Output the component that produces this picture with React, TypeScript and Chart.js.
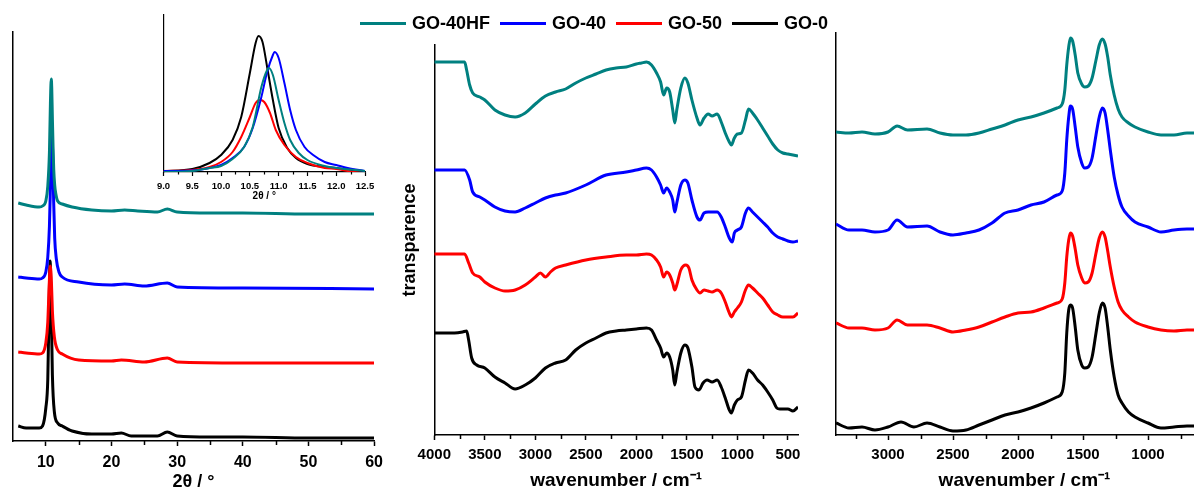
import React, { useEffect, useRef } from 'react';
import { Chart, registerables } from 'chart.js';

Chart.register(...registerables);

const FONT = "Arial, 'Liberation Sans', Helvetica, sans-serif";

const SERIES_NAMES = ['GO-40HF', 'GO-40', 'GO-50', 'GO-0'];
const SERIES_COLORS = ['#008080', '#0000ff', '#ff0000', '#000000'];

// ---------- XRD (2θ, intensity a.u.) ----------
const XRD_TICKS = [10, 20, 30, 40, 50, 60];
const XRD_MINOR = [15, 25, 35, 45, 55];
const XRD_GO40HF: [number, number][] = [[5.8,238],[7,236],[9,234],[9.5,235],[10,240],[10.3,255],[10.55,289],[10.7,338],[10.83,362],[10.9,353],[11,322],[11.1,294],[11.2,272],[11.35,256],[11.5,248],[11.8,240],[12.5,237],[14,234],[17,231],[20,230],[22,231],[24,230],[27,229],[28.5,232],[30,229],[35,228],[40,228],[50,227],[60,227]];
const XRD_GO40: [number, number][] = [[5.8,164],[7,163],[9,162],[9.5,163],[10,169],[10.3,184],[10.55,215],[10.7,254],[10.8,285],[10.93,310],[11.05,286],[11.2,238],[11.35,203],[11.6,182],[12,169],[12.5,164],[15,159],[20,156],[22,157],[25,155],[28.5,158],[30,154],[40,153],[60,152]];
const XRD_GO50: [number, number][] = [[5.8,89],[7,88],[9,87],[9.5,88],[10,98],[10.3,119],[10.5,154],[10.68,175],[10.85,159],[11,130],[11.3,104],[11.8,91],[12.5,87],[15,81],[20,80],[21.5,81],[25,79],[28.5,83],[30,79],[40,78],[60,78]];
const XRD_GO0: [number, number][] = [[5.8,15],[7,13],[9,13],[9.5,15],[10,33],[10.3,62],[10.5,135],[10.65,180],[10.8,142],[11,66],[11.3,29],[11.8,18],[12.5,15],[14,10],[17,7],[20,7],[21.5,8],[23,5],[27,5],[28.5,9],[30,5],[35,4],[40,4],[50,3],[60,3]];

// ---------- XRD inset ----------
const INSET_TICKS = [9.0, 9.5, 10.0, 10.5, 11.0, 11.5, 12.0, 12.5];
const INSET_MINOR = [9.25, 9.75, 10.25, 10.75, 11.25, 11.75, 12.25];
const INSET_GO40HF: [number, number][] = [[9,-1],[9.5,0],[9.8,3],[10,5],[10.2,12],[10.4,24],[10.55,44],[10.7,84],[10.8,101],[10.83,103],[10.9,96],[11,71],[11.1,48],[11.2,31],[11.35,18],[11.5,11],[11.8,5],[12,3],[12.5,0]];
const INSET_GO40: [number, number][] = [[9,0],[9.5,0.5],[9.8,3],[10,6],[10.2,13],[10.4,24],[10.55,43],[10.7,74],[10.8,99],[10.9,116],[10.93,119],[11,113],[11.1,88],[11.2,61],[11.3,41],[11.45,24],[11.6,16],[11.8,9],[12,6],[12.2,3],[12.5,0]];
const INSET_GO50: [number, number][] = [[9,0],[9.5,1],[9.8,4],[10,9],[10.2,19],[10.35,34],[10.5,54],[10.6,68],[10.68,71],[10.75,69],[10.85,58],[10.95,41],[11.1,26],[11.3,14],[11.5,8],[11.8,3],[12,2],[12.3,-1],[12.5,-2]];
const INSET_GO0: [number, number][] = [[9,0],[9.5,2],[9.8,8],[10,16],[10.2,31],[10.35,54],[10.5,98],[10.6,128],[10.65,135],[10.72,129],[10.8,104],[10.9,71],[11,43],[11.15,23],[11.3,13],[11.5,7],[11.8,4],[12,3],[12.5,-1]];

// ---------- FTIR (wavenumber, transmittance a.u.) ----------
const FTIR_TICKS = [4000, 3500, 3000, 2500, 2000, 1500, 1000, 500];
const FTIR_MINOR = [3750, 3250, 2750, 2250, 1750, 1250, 750];
const FTIR_GO40HF: [number, number][] = [[4000,371],[3850,371],[3700,371],[3680,363],[3650,348],[3620,340],[3550,336],[3500,333],[3400,323],[3300,318],[3200,316],[3100,320],[3000,329],[2900,337],[2800,341],[2700,344],[2600,350],[2500,355],[2400,359],[2300,363],[2200,365],[2100,366],[2000,369],[1950,370],[1900,371],[1850,368],[1800,360],[1760,351],[1730,338],[1700,345],[1670,341],[1640,323],[1620,310],[1600,323],[1560,345],[1520,355],[1490,350],[1450,333],[1400,315],[1370,308],[1330,315],[1290,319],[1250,317],[1200,319],[1160,311],[1120,300],[1080,291],[1060,288],[1030,295],[1000,299],[960,300],[920,313],[890,324],[850,320],[800,313],[750,305],[700,297],[650,289],[600,283],[550,280],[500,279],[450,278],[400,277]];
const FTIR_GO40: [number, number][] = [[4000,263],[3850,263],[3700,263],[3650,253],[3620,241],[3550,236],[3500,233],[3400,226],[3300,222],[3200,221],[3100,225],[3000,230],[2900,235],[2800,238],[2700,240],[2500,248],[2300,258],[2100,261],[2000,263],[1900,265],[1850,263],[1800,256],[1760,248],[1730,240],[1700,245],[1670,241],[1640,233],[1620,221],[1600,230],[1560,248],[1520,253],[1490,250],[1450,233],[1400,216],[1370,213],[1330,220],[1290,221],[1250,221],[1200,221],[1160,216],[1120,206],[1080,195],[1050,191],[1030,200],[1000,203],[960,206],[920,220],[890,225],[850,221],[800,216],[750,211],[700,206],[650,200],[600,196],[550,194],[500,192],[450,191],[400,192]];
const FTIR_GO50: [number, number][] = [[4000,179],[3850,179],[3700,179],[3660,170],[3620,160],[3550,156],[3500,151],[3400,145],[3300,142],[3200,143],[3100,148],[3000,156],[2950,160],[2900,156],[2850,161],[2800,165],[2700,168],[2500,173],[2300,176],[2100,178],[2000,178],[1900,179],[1850,178],[1800,173],[1760,166],[1730,156],[1700,161],[1670,158],[1640,150],[1620,143],[1600,148],[1560,163],[1510,168],[1480,165],[1450,153],[1400,143],[1370,140],[1330,143],[1290,142],[1250,141],[1200,143],[1160,140],[1120,131],[1080,120],[1060,116],[1030,121],[1000,125],[960,131],[920,143],[890,148],[850,145],[800,140],[750,135],[700,128],[650,121],[600,118],[550,116],[500,116],[450,116],[400,120]];
const FTIR_GO0: [number, number][] = [[4000,100],[3800,100],[3720,101],[3680,102],[3660,93],[3630,75],[3580,68],[3500,65],[3400,56],[3300,50],[3200,44],[3100,48],[3000,55],[2900,65],[2800,70],[2700,73],[2600,83],[2500,90],[2400,95],[2300,100],[2200,102],[2100,103],[2000,104],[1900,105],[1850,103],[1800,93],[1760,85],[1730,76],[1700,80],[1670,76],[1640,63],[1620,48],[1600,60],[1560,80],[1520,88],[1490,85],[1450,66],[1420,46],[1380,43],[1340,50],[1300,53],[1250,51],[1200,53],[1160,46],[1120,35],[1080,23],[1060,20],[1030,28],[1000,33],[960,36],[920,53],[890,63],[850,60],[800,53],[750,48],[700,41],[650,33],[610,25],[580,24],[500,24],[450,22],[400,26]];

// ---------- Raman (wavenumber, intensity a.u.) ----------
const RAMAN_TICKS = [3000, 2500, 2000, 1500, 1000];
const RAMAN_MINOR = [3250, 2750, 2250, 1750, 1250, 750];
const RAMAN_GO40HF: [number, number][] = [[3400,303],[3300,302],[3200,303],[3100,301],[3000,303],[2930,309],[2850,305],[2700,306],[2600,302],[2500,300],[2400,300],[2300,302],[2200,306],[2100,310],[2000,315],[1900,318],[1800,322],[1700,327],[1660,331],[1640,345],[1625,370],[1610,388],[1597,397],[1580,394],[1560,380],[1540,362],[1510,351],[1487,348],[1460,349],[1430,357],[1400,375],[1375,390],[1351,396],[1330,391],[1310,378],[1290,360],[1260,340],[1230,326],[1200,318],[1150,312],[1100,308],[1000,303],[900,300],[800,300],[700,302],[500,302]];
const RAMAN_GO40: [number, number][] = [[3400,211],[3300,205],[3200,205],[3100,203],[3000,205],[2930,215],[2850,208],[2700,209],[2600,203],[2500,200],[2400,202],[2300,205],[2200,212],[2100,222],[2000,225],[1900,230],[1800,233],[1700,240],[1660,244],[1640,262],[1625,295],[1610,318],[1597,329],[1580,326],[1560,308],[1540,288],[1510,272],[1487,267],[1460,268],[1430,277],[1400,300],[1375,318],[1351,327],[1330,322],[1310,305],[1290,285],[1260,258],[1230,240],[1200,228],[1150,219],[1100,213],[1000,208],[900,203],[800,205],[700,206],[500,206]];
const RAMAN_GO50: [number, number][] = [[3400,112],[3300,107],[3200,107],[3100,105],[3000,107],[2930,115],[2850,110],[2700,110],[2600,107],[2500,103],[2400,105],[2300,108],[2200,113],[2100,118],[2000,122],[1900,123],[1800,127],[1700,132],[1660,136],[1640,152],[1625,178],[1610,195],[1597,202],[1580,199],[1560,186],[1540,170],[1510,157],[1487,152],[1460,153],[1430,162],[1400,182],[1375,197],[1351,203],[1330,198],[1310,184],[1290,168],[1260,148],[1230,133],[1200,125],[1150,118],[1100,113],[1000,108],[900,105],[800,104],[700,105],[500,105]];
const RAMAN_GO0: [number, number][] = [[3400,12],[3300,7],[3200,8],[3100,5],[3000,8],[2900,13],[2800,8],[2700,12],[2600,8],[2500,4],[2400,5],[2300,10],[2200,15],[2100,20],[2000,23],[1900,27],[1800,32],[1700,38],[1660,43],[1640,62],[1625,102],[1610,125],[1597,130],[1580,127],[1560,108],[1540,85],[1510,70],[1487,67],[1460,68],[1430,78],[1400,102],[1375,122],[1351,132],[1330,127],[1310,108],[1290,85],[1260,58],[1230,40],[1200,32],[1150,23],[1100,18],[1000,12],[900,7],[800,8],[700,9],[500,9]];

const minorTicksPlugin = {
  id: 'minorTicks',
  afterDraw(chart: any, _args: any, opts: any) {
    const vals: number[] = opts && opts.values;
    if (!vals) return;
    const sc = chart.scales.x;
    const ctx = chart.ctx;
    ctx.save();
    ctx.strokeStyle = '#000';
    ctx.lineWidth = opts.width || 1.5;
    ctx.beginPath();
    for (const v of vals) {
      const px = Math.round(sc.getPixelForValue(v)) + 0.5;
      ctx.moveTo(px, sc.top);
      ctx.lineTo(px, sc.top + (opts.length || 3));
    }
    ctx.stroke();
    ctx.restore();
  },
};

type Panel = {
  series: [number, number][][];
  lineWidth: number;
  xMin: number; xMax: number; reverse: boolean;
  yMin: number; yMax: number;
  ticks: number[]; minor: number[];
  tickFont: number; tickLen: number; tickPad: number; decimals: number;
  xTitle: string; xTitleFont: number; xTitlePad: number;
  yTitle?: string; yTitleFont?: number; yTitlePad?: number;
  padTop: number; padRight: number; yWidth: number; xHeight: number;
  minorLen: number; axisWidth: number;
};

function buildConfig(p: Panel): any {
  return {
    type: 'line',
    data: {
      datasets: p.series.map((pts, i) => ({
        label: SERIES_NAMES[i],
        data: pts.map(([x, y]) => ({ x, y })),
        borderColor: SERIES_COLORS[i],
        backgroundColor: SERIES_COLORS[i],
        borderWidth: p.lineWidth,
        pointRadius: 0,
        cubicInterpolationMode: 'monotone',
        fill: false,
      })),
    },
    options: {
      responsive: false,
      animation: false,
      events: [],
      layout: { padding: { top: p.padTop, right: p.padRight, left: 0, bottom: 0 } },
      plugins: {
        legend: { display: false },
        tooltip: { enabled: false },
        minorTicks: { values: p.minor, length: p.minorLen, width: p.axisWidth },
      },
      scales: {
        x: {
          type: 'linear',
          min: p.xMin,
          max: p.xMax,
          reverse: p.reverse,
          afterBuildTicks: (s: any) => { s.ticks = p.ticks.map((v) => ({ value: v })); },
          afterFit: (s: any) => { s.height = p.xHeight; },
          ticks: {
            autoSkip: false,
            maxRotation: 0,
            padding: p.tickPad,
            color: '#000',
            font: { family: FONT, size: p.tickFont, weight: 'bold' },
            callback: (v: any) => Number(v).toFixed(p.decimals),
          },
          grid: {
            display: true,
            drawOnChartArea: false,
            drawTicks: true,
            tickLength: p.tickLen,
            tickWidth: p.axisWidth,
            tickColor: '#000',
            color: '#000',
          },
          border: { display: true, color: '#000', width: p.axisWidth },
          title: {
            display: true,
            text: p.xTitle,
            color: '#000',
            font: { family: FONT, size: p.xTitleFont, weight: 'bold', lineHeight: 1.2 },
            padding: { top: 0, bottom: p.xTitlePad },
          },
        },
        y: {
          type: 'linear',
          min: p.yMin,
          max: p.yMax,
          afterFit: (s: any) => { s.width = p.yWidth; },
          ticks: { display: false },
          grid: { display: false },
          border: { display: true, color: '#000', width: p.axisWidth },
          title: {
            display: !!p.yTitle,
            text: p.yTitle || '',
            color: '#000',
            font: { family: FONT, size: p.yTitleFont || 12, weight: 'bold', lineHeight: 1.2 },
            padding: { top: p.yTitlePad || 0, bottom: 0 },
          },
        },
      },
    },
    plugins: [minorTicksPlugin],
  };
}

const XRD_PANEL: Panel = {
  series: [XRD_GO40HF, XRD_GO40, XRD_GO50, XRD_GO0],
  lineWidth: 3, xMin: 5, xMax: 60, reverse: false, yMin: 0, yMax: 409,
  ticks: XRD_TICKS, minor: XRD_MINOR, tickFont: 16, tickLen: 5, tickPad: 7, decimals: 0,
  xTitle: '2θ / °', xTitleFont: 18, xTitlePad: 6.8,
  padTop: 32, padRight: 14, yWidth: 13, xHeight: 59, minorLen: 4, axisWidth: 1.5,
};

const INSET_PANEL: Panel = {
  series: [INSET_GO40HF, INSET_GO40, INSET_GO50, INSET_GO0],
  lineWidth: 2, xMin: 9, xMax: 12.5, reverse: false, yMin: -1, yMax: 156,
  ticks: INSET_TICKS, minor: INSET_MINOR, tickFont: 9.5, tickLen: 4, tickPad: 5, decimals: 1,
  xTitle: '2θ / °', xTitleFont: 10, xTitlePad: 8,
  padTop: 15, padRight: 15, yWidth: 13.5, xHeight: 38, minorLen: 2.5, axisWidth: 1.2,
};

const FTIR_PANEL: Panel = {
  series: [FTIR_GO40HF, FTIR_GO40, FTIR_GO50, FTIR_GO0],
  lineWidth: 3, xMin: 400, xMax: 4000, reverse: true, yMin: -2, yMax: 388,
  ticks: FTIR_TICKS, minor: FTIR_MINOR, tickFont: 15, tickLen: 5, tickPad: 6, decimals: 0,
  xTitle: 'wavenumber / cm⁻¹', xTitleFont: 19, xTitlePad: 7.6,
  yTitle: 'transparence', yTitleFont: 18, yTitlePad: 9.2,
  padTop: 45, padRight: 17, yWidth: 44.3, xHeight: 65, minorLen: 4, axisWidth: 1.5,
};

const RAMAN_PANEL: Panel = {
  series: [RAMAN_GO40HF, RAMAN_GO40, RAMAN_GO50, RAMAN_GO0],
  lineWidth: 3, xMin: 500, xMax: 3400, reverse: true, yMin: 0, yMax: 402,
  ticks: RAMAN_TICKS, minor: RAMAN_MINOR, tickFont: 15, tickLen: 5, tickPad: 6, decimals: 0,
  xTitle: 'wavenumber / cm⁻¹', xTitleFont: 19, xTitlePad: 7.6,
  padTop: 33, padRight: 17, yWidth: 21, xHeight: 65, minorLen: 4, axisWidth: 1.5,
};

function ChartCanvas({ panel, left, top, width, height }: { panel: Panel; left: number; top: number; width: number; height: number }) {
  const ref = useRef<HTMLCanvasElement>(null);
  useEffect(() => {
    const chart = new Chart(ref.current as HTMLCanvasElement, buildConfig(panel));
    return () => chart.destroy();
  }, [panel]);
  return (
    <canvas
      ref={ref}
      width={width}
      height={height}
      style={{ position: 'absolute', left, top, width, height }}
    />
  );
}

function Legend() {
  return (
    <div
      style={{
        position: 'absolute',
        left: 360,
        top: 12,
        height: 22,
        display: 'flex',
        alignItems: 'center',
        whiteSpace: 'nowrap',
        font: `bold 18px ${FONT}`,
        color: '#000',
      }}
    >
      {SERIES_NAMES.map((name, i) => (
        <React.Fragment key={name}>
          <span style={{ display: 'inline-block', width: 46, height: 3, background: SERIES_COLORS[i], marginRight: 6 }} />
          <span style={{ marginRight: 10, lineHeight: '22px' }}>{name}</span>
        </React.Fragment>
      ))}
    </div>
  );
}

export default function App() {
  return (
    <div
      style={{
        position: 'absolute',
        left: 0,
        top: 0,
        width: 1194,
        height: 488,
        overflow: 'hidden',
        background: '#fff',
      }}
    >
      <ChartCanvas panel={XRD_PANEL} left={0} top={0} width={390} height={500} />
      <ChartCanvas panel={INSET_PANEL} left={150} top={0} width={230} height={210} />
      <ChartCanvas panel={FTIR_PANEL} left={390} top={0} width={425} height={500} />
      <ChartCanvas panel={RAMAN_PANEL} left={815} top={0} width={415} height={500} />
      <Legend />
    </div>
  );
}
